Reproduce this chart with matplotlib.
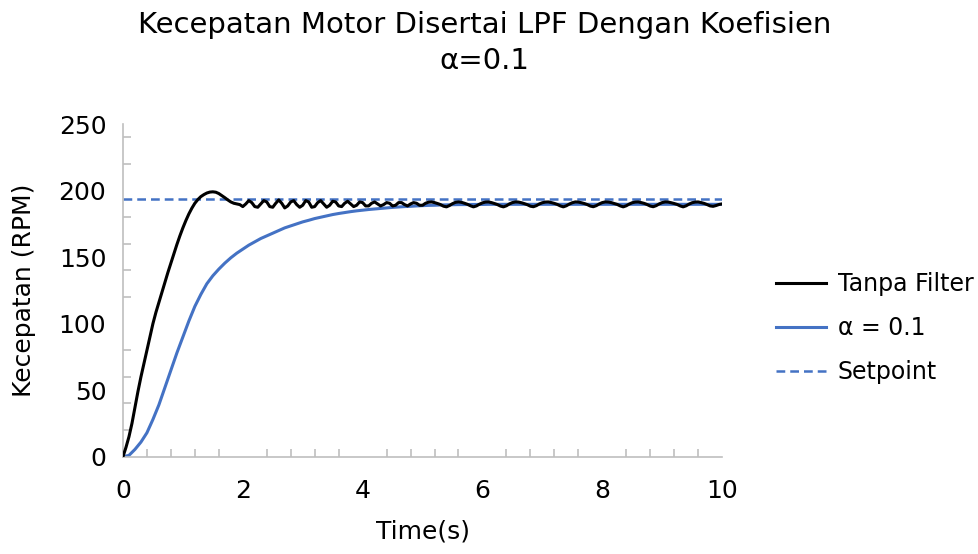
import numpy as np
import matplotlib
matplotlib.use("Agg")
import matplotlib.pyplot as plt
from matplotlib.ticker import MultipleLocator

# ---------------- data ----------------
setpoint = 194

t_blue = np.round(np.arange(0, 10.0001, 0.1), 2)
alpha_01 = [
    0, 1, 5.5, 11, 18, 28, 39, 52, 65, 78,            # 0.0-0.9
    90, 102, 113, 122, 130, 136, 141, 145.5, 149.5, 153,  # 1.0-1.9
    156, 159, 161.5, 164, 166, 168, 170, 172, 173.5, 175,  # 2.0-2.9
    176.5, 177.7, 179, 180, 181, 182, 182.8, 183.5, 184.2, 184.8,  # 3.0-3.9
    185.3, 185.8, 186.2, 186.6, 187, 187.4, 187.7, 188, 188.2, 188.5,  # 4.0-4.9
    188.7, 188.9, 189, 189.2, 189.3, 189.4, 189.5, 189.5, 189.6, 189.6,  # 5.0-5.9
    189.6, 189.7, 189.7, 189.7, 189.7, 189.7, 189.7, 189.7, 189.7, 189.7,  # 6.0-6.9
    189.7, 189.7, 189.7, 189.7, 189.7, 189.7, 189.7, 189.7, 189.7, 189.7,  # 7.0-7.9
    189.7, 189.7, 189.7, 189.7, 189.7, 189.7, 189.7, 189.7, 189.7, 189.7,  # 8.0-8.9
    189.7, 189.7, 189.7, 189.7, 189.7, 189.7, 189.7, 189.7, 189.7, 189.7,  # 9.0-9.9
    189.7,
]

t_black = np.round(np.arange(0, 10.0001, 0.05), 2)
tanpa_filter = [
    0, 7, 15, 25, 37, 49, 60, 70, 80, 90,                       # 0.00-0.45
    100, 108.5, 116, 123.5, 131, 138.5, 145.5, 152.5, 159.5, 166,  # 0.50-0.95
    172, 177.5, 182.5, 186.8, 190.5, 193.3, 195.5, 197, 198.2, 198.9,  # 1.00-1.45
    199.1, 198.8, 197.8, 196.3, 194.7, 193, 191.5, 190.5, 190, 189.5,  # 1.50-1.95
    188, 190, 192.5, 191, 188, 187.5, 190, 192.5, 191.5, 188,   # 2.00-2.45
    187.5, 190.5, 193, 190.5, 187, 188.5, 191.5, 192.5, 189.5, 187.5,  # 2.50-2.95
    189, 192.5, 191.5, 187.5, 188, 191, 192.5, 190, 187.5, 189,  # 3.00-3.45
    192, 191.5, 188.5, 188, 190.5, 192, 190, 188, 189, 191.5,   # 3.50-3.95
    191, 188.5, 188.5, 190.5, 191.5, 190, 188.5, 189.5, 191, 190.5,  # 4.00-4.45
    188.5, 189, 191, 191, 189.5, 188.5, 190, 191, 190.5, 189,   # 4.50-4.95
    189, 190.5, 191.3, 191.5, 191, 190.3, 189.5, 188.3, 187.8, 188.8,  # 5.00-5.45
    190.2, 191.2, 191.5, 191.2, 190.5, 189.7, 188.6, 187.8, 188.5, 189.8,  # 5.50-5.95
    190.8, 191.4, 191.5, 191, 190.3, 189.5, 188.4, 187.8, 188.6, 190,  # 6.00-6.45
    191, 191.5, 191.4, 190.9, 190.2, 189.4, 188.3, 187.9, 188.7, 190,  # 6.50-6.95
    190.9, 191.4, 191.5, 191, 190.4, 189.6, 188.5, 187.8, 188.6, 189.9,  # 7.00-7.45
    190.9, 191.5, 191.4, 190.9, 190.3, 189.5, 188.4, 187.9, 188.7, 190,  # 7.50-7.95
    191, 191.5, 191.4, 191, 190.3, 189.6, 188.5, 187.8, 188.6, 189.9,  # 8.00-8.45
    190.9, 191.4, 191.5, 191, 190.4, 189.5, 188.4, 187.9, 188.7, 190,  # 8.50-8.95
    191, 191.5, 191.4, 190.9, 190.3, 189.6, 188.5, 187.8, 188.6, 189.9,  # 9.00-9.45
    190.9, 191.4, 191.5, 191, 190.4, 189.5, 188.5, 188.2, 188.8, 189.6,  # 9.50-9.95
    190,
]

x_labels = [0, 2, 4, 6, 8, 10]
y_labels = [0, 50, 100, 150, 200, 250]

# ---------------- figure ----------------
plt.rcParams['font.family'] = ['DejaVu Sans']
fig = plt.figure(figsize=(9.79, 5.54), dpi=100)
ax = fig.add_axes([0.1256, 0.1756, 0.612, 0.6004])

blue = '#4472C4'
ax.plot(t_black, tanpa_filter, color='black', lw=2.2, label='Tanpa Filter', zorder=3)
ax.plot(t_blue, alpha_01, color=blue, lw=2.2, label='α = 0.1', zorder=2)
ax.axhline(setpoint, color=blue, lw=1.8, ls=(0, (3.5, 2)), label='Setpoint', zorder=1)

ax.set_xlim(0, 10)
ax.set_ylim(0, 250)
for s in ['top', 'right']:
    ax.spines[s].set_visible(False)
for s in ['left', 'bottom']:
    ax.spines[s].set_color('#bfbfbf')
    ax.spines[s].set_linewidth(1.2)

ax.set_xticks(x_labels)
ax.set_yticks(y_labels)
ax.xaxis.set_minor_locator(MultipleLocator(0.4))
ax.yaxis.set_minor_locator(MultipleLocator(20))
ax.tick_params(axis='both', which='major', length=0, labelsize=18)
ax.tick_params(axis='x', which='major', pad=16)
ax.tick_params(axis='y', which='major', pad=12)
ax.tick_params(axis='both', which='minor', direction='in', length=6,
               color='#bfbfbf', width=1.2)

ax.set_xlabel('Time(s)', fontsize=18, labelpad=12)
ax.set_ylabel('Kecepatan (RPM)', fontsize=18, labelpad=16)

fig.text(0.495, 0.98, 'Kecepatan Motor Disertai LPF Dengan Koefisien\nα=0.1',
         ha='center', va='top', fontsize=21, linespacing=1.35)

leg = ax.legend(loc='center left', bbox_to_anchor=(1.055, 0.386), frameon=False,
                fontsize=17, handlelength=2.1, handletextpad=0.5, labelspacing=0.85)

fig.savefig('out.png', dpi=100)
